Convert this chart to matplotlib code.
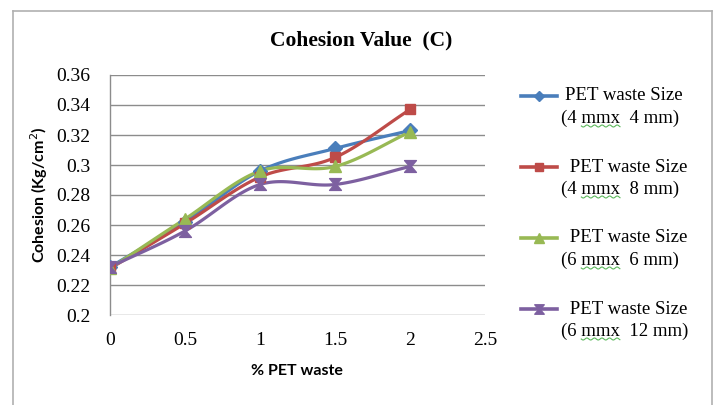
import numpy as np
import matplotlib
matplotlib.use("Agg")
import matplotlib.pyplot as plt
from matplotlib.path import Path
from matplotlib.lines import Line2D

pet_pct = [0, 0.5, 1, 1.5, 2]
size_4x4 = [0.232, 0.262, 0.296, 0.311, 0.323]
size_4x8 = [0.231, 0.261, 0.292, 0.305, 0.337]
size_6x6 = [0.231, 0.264, 0.296, 0.299, 0.322]
size_6x12 = [0.232, 0.256, 0.287, 0.287, 0.299]

label_top = ["PET waste Size", " PET waste Size", " PET waste Size", " PET waste Size"]
label_pre = ["(4 ", "(4 ", "(6 ", "(6 "]
label_rest = ["mmx  4 mm)", "mmx  8 mm)", "mmx  6 mm)", "mmx  12 mm)"]
colors = ["#4a7ebb", "#be4b48", "#98b954", "#7d60a0"]

x_ticks = [0, 0.5, 1, 1.5, 2, 2.5]
y_ticks = [0.2, 0.22, 0.24, 0.26, 0.28, 0.3, 0.32, 0.34, 0.36]
y_tick_labels = ["0.2", "0.22", "0.24", "0.26", "0.28", "0.3", "0.32", "0.34", "0.36"]

# hourglass marker (two triangles meeting at the centre)
hourglass = Path(
    [(-1, 1), (1, 1), (0.15, 0), (1, -1), (-1, -1), (-0.15, 0), (-1, 1)],
    [Path.MOVETO, Path.LINETO, Path.LINETO, Path.LINETO, Path.LINETO,
     Path.LINETO, Path.CLOSEPOLY],
)
markers = ["D", "s", "^", hourglass]
msizes = [7, 6.5, 9, 8.5]


def smooth(xs, ys, n=30):
    """Catmull-Rom curve through the points, like a spreadsheet smoothed line."""
    xs = np.asarray(xs, float)
    ys = np.asarray(ys, float)
    px = np.concatenate([[2 * xs[0] - xs[1]], xs, [2 * xs[-1] - xs[-2]]])
    py = np.concatenate([[2 * ys[0] - ys[1]], ys, [2 * ys[-1] - ys[-2]]])
    ox, oy = [], []
    t = np.linspace(0, 1, n)
    for i in range(1, len(px) - 2):
        for arr, out in ((px, ox), (py, oy)):
            p0, p1, p2, p3 = arr[i - 1], arr[i], arr[i + 1], arr[i + 2]
            seg = 0.5 * ((2 * p1) + (-p0 + p2) * t
                         + (2 * p0 - 5 * p1 + 4 * p2 - p3) * t ** 2
                         + (-p0 + 3 * p1 - 3 * p2 + p3) * t ** 3)
            out.extend(seg if i == 1 else seg[1:])
    return np.array(ox), np.array(oy)


W, H = 713, 405
fig = plt.figure(figsize=(W / 100, H / 100), dpi=100)
ax = fig.add_axes([110 / W, 1 - 315 / H, 375 / W, 240 / H])


def fx(px):
    return px / W


def fy(py):
    return 1 - py / H


series = [size_4x4, size_4x8, size_6x6, size_6x12]
for vals, c, m, ms in zip(series, colors, markers, msizes):
    sx, sy = smooth(pet_pct, vals)
    ax.plot(sx, sy, color=c, lw=2.3, solid_capstyle="round", zorder=3)
    ax.plot(pet_pct, vals, ls="none", marker=m, ms=ms, color=c,
            markeredgecolor=c, zorder=4)

ax.set_xlim(0, 2.5)
ax.set_ylim(0.2, 0.36)
ax.set_xticks(x_ticks)
ax.set_xticklabels([f"{v:g}" for v in x_ticks])
ax.set_yticks(y_ticks)
ax.set_yticklabels(y_tick_labels)
ax.grid(axis="y", color="#8c8c8c", lw=1.0)
ax.set_axisbelow(True)
for s in ["top", "right", "bottom"]:
    ax.spines[s].set_visible(False)
ax.spines["left"].set_color("#8c8c8c")
ax.spines["left"].set_linewidth(1.0)
ax.tick_params(axis="both", length=0, labelsize=14)
ax.tick_params(axis="y", pad=14)
ax.tick_params(axis="x", pad=12)
for lab in ax.get_xticklabels() + ax.get_yticklabels():
    lab.set_family("Liberation Serif")

ax.set_xlabel("% PET waste", family="Lato", fontweight="bold", fontsize=11.5)
ax.xaxis.set_label_coords((297 - 110) / 375, -(364 - 315) / 240)
ax.set_ylabel("Cohesion (Kg/cm$^2$)", family="Lato", fontweight="bold",
              fontsize=11.5)
ax.yaxis.set_label_coords(-(110 - 50) / 375, 0.5)

fig.text(fx(361), fy(40), "Cohesion Value  (C)", family="Liberation Serif",
         fontweight="bold", fontsize=15.5, ha="center", va="center")

# legend: handle beside the first line of each two-line entry
renderer = fig.canvas.get_renderer()
leg_font = dict(family="Liberation Serif", fontsize=13.5)
entry_y = [96, 167, 238, 309]
for i, c in enumerate(colors):
    y = entry_y[i]
    fig.add_artist(Line2D([fx(521), fx(557)], [fy(y), fy(y)], color=c, lw=2.6,
                          transform=fig.transFigure))
    fig.add_artist(Line2D([fx(539)], [fy(y)], ls="none", marker=markers[i],
                          ms=msizes[i] * 0.8, color=c, markeredgecolor=c,
                          transform=fig.transFigure))
    fig.text(fx(565), fy(y), label_top[i], va="center", ha="left", **leg_font)
    y2 = y + 22
    fig.text(fx(561), fy(y2), label_pre[i] + label_rest[i], va="center",
             ha="left", **leg_font)
    # spell-check squiggle under "mmx"
    probe = fig.text(0, 0, label_pre[i], **leg_font)
    w_pre = probe.get_window_extent(renderer).width
    probe.set_text(label_pre[i] + "mmx")
    w_mmx = probe.get_window_extent(renderer).width
    probe.remove()
    x0, x1 = 561 + w_pre, 561 + w_mmx
    wx = np.linspace(x0, x1, 60)
    wy = y2 + 8 + 1.0 * np.sin((wx - x0) / 1.2)
    fig.add_artist(Line2D(fx(wx), fy(wy), color="#5cb85c", lw=0.8,
                          transform=fig.transFigure))

# outer chart frame
frame_kw = dict(color="#b0b0b0", lw=1.2, transform=fig.transFigure)
fig.add_artist(Line2D([fx(13), fx(712)], [fy(10.5), fy(10.5)], **frame_kw))
fig.add_artist(Line2D([fx(13), fx(13)], [0, fy(10.5)], **frame_kw))
fig.add_artist(Line2D([fx(712), fx(712)], [0, fy(10.5)], **frame_kw))

fig.savefig("out.png", dpi=100, facecolor="white")
